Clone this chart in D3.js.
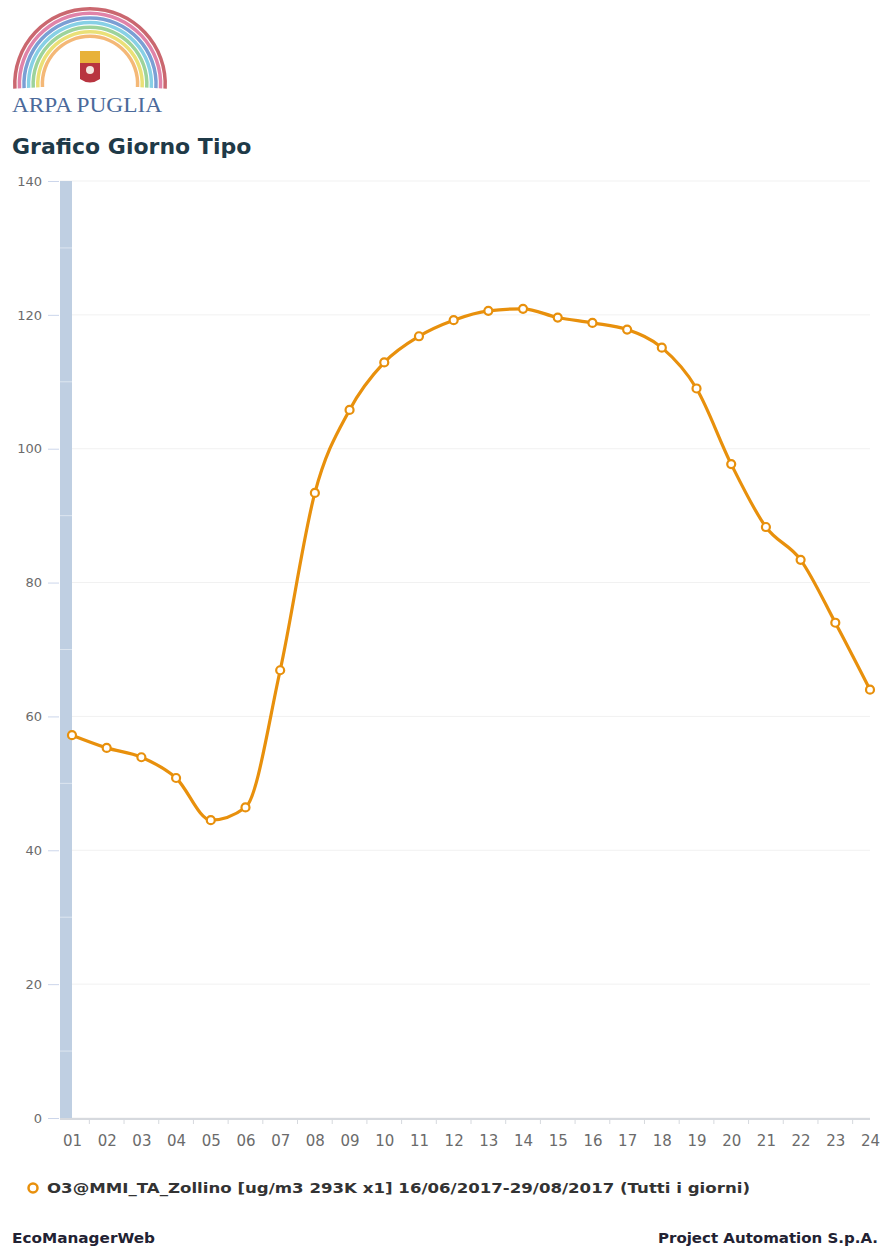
<!DOCTYPE html>
<html>
<head>
<meta charset="utf-8">
<script src="https://cdn.jsdelivr.net/npm/d3@7"></script>
<style>
  body { margin: 0; background: #fff; }
  svg { display: block; }
</style>
</head>
<body>
<svg id="chart"></svg>
<script>
// hours of the typical day
const hours = ["01","02","03","04","05","06","07","08","09","10","11","12",
               "13","14","15","16","17","18","19","20","21","22","23","24"];
// O3 average values (ug/m3)
const o3Values = [57.2, 55.3, 53.9, 50.8, 44.5, 46.4, 66.9, 93.4, 105.8, 112.9, 116.8, 119.2,
                  120.6, 120.9, 119.6, 118.8, 117.8, 115.1, 109.0, 97.7, 88.3, 83.4, 74.0, 64.0];
const yTicks = [0, 20, 40, 60, 80, 100, 120, 140];
const legendLabel = "O3@MMI_TA_Zollino [ug/m3 293K x1] 16/06/2017-29/08/2017 (Tutti i giorni)";
const rainbowColors = ["#b8343f", "#d65a8c", "#4f7fc6", "#5fc0dc", "#7cc47a", "#e3d64a", "#f0a04a"];

const width = 889, height = 1248;
const plot = { left: 60, right: 870, top: 181, bottom: 1118 };
const lineColor = "#e8900c";
const font = "'DejaVu Sans', Verdana, sans-serif";

const svg = d3.select("#chart").attr("width", width).attr("height", height);

// ---- logo ----
const logo = svg.append("g");
const arc = d3.arc();
rainbowColors.forEach((c, i) => {
  logo.append("path")
    .attr("transform", "translate(90,84)")
    .attr("d", arc({ innerRadius: 73.5 - i * 4.6, outerRadius: 77 - i * 4.6,
                     startAngle: -Math.PI * 0.52, endAngle: Math.PI * 0.52 }))
    .attr("fill", c)
    .attr("opacity", 0.75);
});
// small emblem
logo.append("rect").attr("x", 80).attr("y", 51).attr("width", 20).attr("height", 12).attr("fill", "#e8b23a");
logo.append("path").attr("d", "M80,63 H100 V79 Q90,86 80,79 Z").attr("fill", "#b8343f");
logo.append("circle").attr("cx", 90).attr("cy", 70).attr("r", 4).attr("fill", "#f4e6e0");
logo.append("text")
  .attr("x", 12).attr("y", 112)
  .attr("font-family", "'Liberation Serif', 'DejaVu Serif', serif")
  .attr("font-size", 22)
  .attr("textLength", 150).attr("lengthAdjust", "spacingAndGlyphs")
  .attr("fill", "#4b6a9b")
  .text("ARPA PUGLIA");

// ---- title ----
svg.append("text")
  .attr("x", 12).attr("y", 154)
  .attr("font-family", font)
  .attr("font-weight", "bold")
  .attr("font-size", 22)
  .attr("fill", "#1f3a48")
  .text("Grafico Giorno Tipo");

// ---- scales ----
const x = d3.scalePoint().domain(hours).range([72, plot.right]);
const y = d3.scaleLinear().domain([0, 140]).range([plot.bottom, plot.top]);

// grid lines
svg.append("g").selectAll("line")
  .data(yTicks)
  .join("line")
  .attr("x1", plot.left).attr("x2", plot.right)
  .attr("y1", d => y(d)).attr("y2", d => y(d))
  .attr("stroke", "#f1f1f1").attr("stroke-width", 1);

// left navigator band
svg.append("rect")
  .attr("x", plot.left).attr("y", plot.top)
  .attr("width", 12).attr("height", plot.bottom - plot.top)
  .attr("fill", "#bfcfe2");
svg.append("g").selectAll("line")
  .data(d3.range(10, 140, 20))
  .join("line")
  .attr("x1", plot.left).attr("x2", plot.left + 12)
  .attr("y1", d => y(d)).attr("y2", d => y(d))
  .attr("stroke", "#dde6f0").attr("stroke-width", 1);

// y axis
const yAxis = d3.axisLeft(y).tickValues(yTicks).tickSize(11).tickPadding(6);
const gy = svg.append("g").attr("transform", `translate(${plot.left - 1},0)`).call(yAxis);
gy.select(".domain").remove();
gy.selectAll(".tick line").attr("stroke", "#ccd6eb");
gy.selectAll(".tick text")
  .attr("font-family", font).attr("font-size", 13).attr("fill", "#6b6b6b");

// x axis
const xAxis = d3.axisBottom(x).tickSize(0).tickPadding(16);
const gx = svg.append("g").attr("transform", `translate(0,${plot.bottom + 1})`).call(xAxis);
gx.select(".domain").remove();
gx.selectAll(".tick text")
  .attr("font-family", font).attr("font-size", 15).attr("fill", "#6b6b6b");
svg.append("line")
  .attr("x1", plot.left).attr("x2", plot.right)
  .attr("y1", plot.bottom + 1).attr("y2", plot.bottom + 1)
  .attr("stroke", "#d6d9de").attr("stroke-width", 2);
// tick marks between categories
svg.append("g").selectAll("line")
  .data(hours.slice(1))
  .join("line")
  .attr("x1", d => x(d) - x.step() / 2).attr("x2", d => x(d) - x.step() / 2)
  .attr("y1", plot.bottom + 1).attr("y2", plot.bottom + 6)
  .attr("stroke", "#d6d9de");

// ---- series ----
const data = hours.map((h, i) => ({ h, v: o3Values[i] }));
const line = d3.line()
  .x(d => x(d.h)).y(d => y(d.v))
  .curve(d3.curveMonotoneX);

svg.append("path")
  .datum(data)
  .attr("d", line)
  .attr("fill", "none")
  .attr("stroke", lineColor)
  .attr("stroke-width", 3.2)
  .attr("stroke-linejoin", "round");

svg.append("g").selectAll("circle")
  .data(data)
  .join("circle")
  .attr("cx", d => x(d.h)).attr("cy", d => y(d.v))
  .attr("r", 4)
  .attr("fill", "#fff")
  .attr("stroke", lineColor)
  .attr("stroke-width", 2.2);

// ---- legend ----
svg.append("circle")
  .attr("cx", 33).attr("cy", 1188).attr("r", 4.5)
  .attr("fill", "#fff").attr("stroke", lineColor).attr("stroke-width", 2.5);
svg.append("text")
  .attr("x", 47).attr("y", 1193)
  .attr("font-family", font).attr("font-weight", "bold").attr("font-size", 14.5)
  .attr("textLength", 703).attr("lengthAdjust", "spacingAndGlyphs")
  .attr("fill", "#333")
  .text(legendLabel);

// ---- footer ----
svg.append("text")
  .attr("x", 12).attr("y", 1243)
  .attr("font-family", font).attr("font-weight", "bold").attr("font-size", 14)
  .attr("textLength", 143).attr("lengthAdjust", "spacingAndGlyphs")
  .attr("fill", "#223")
  .text("EcoManagerWeb");
svg.append("text")
  .attr("x", 658).attr("y", 1243)
  .attr("font-family", font).attr("font-weight", "bold").attr("font-size", 14)
  .attr("textLength", 220).attr("lengthAdjust", "spacingAndGlyphs")
  .attr("fill", "#223")
  .text("Project Automation S.p.A.");
</script>
</body>
</html>
